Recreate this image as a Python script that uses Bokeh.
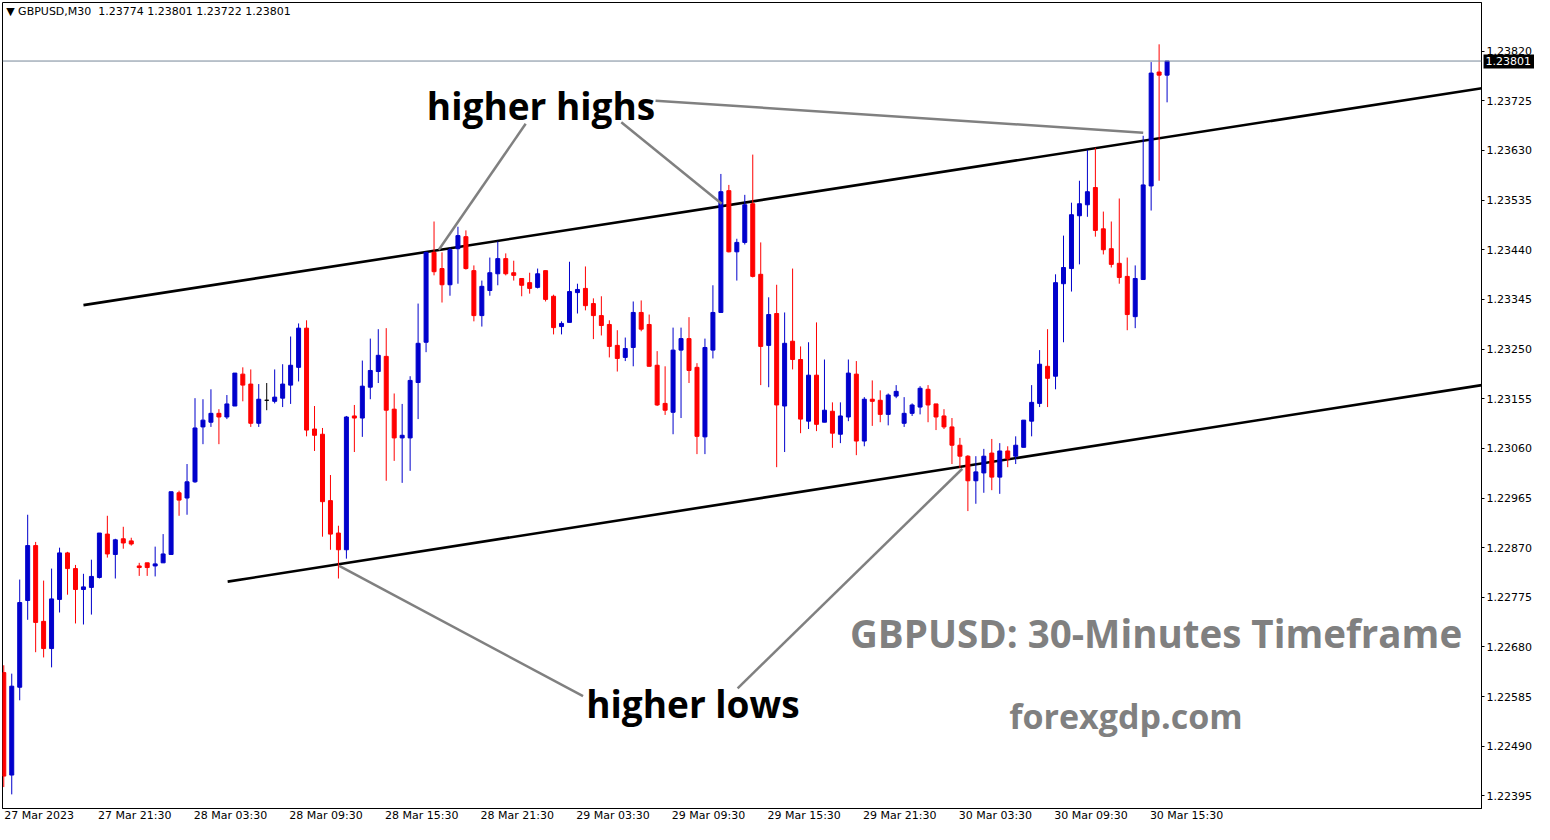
from bokeh.plotting import figure
from bokeh.models import FixedTicker, PrintfTickFormatter, Label, Span, ColumnDataSource, LinearAxis
from bokeh.embed import file_html
from bokeh.resources import INLINE

# ---------------- data (GBPUSD M30, bar index 0 = 27 Mar 15:30) ----------------
opens = [1.22631, 1.22435, 1.22603, 1.22769, 1.22874, 1.22729, 1.22677, 1.22771, 1.22860, 1.22830,
         1.22790, 1.22794, 1.22813, 1.22896, 1.22857, 1.22887, 1.22883, 1.22835, 1.22841, 1.22835,
         1.22841, 1.22857, 1.22975, 1.22965, 1.22996, 1.23101, 1.23110, 1.23127, 1.23120, 1.23141,
         1.23202, 1.23183, 1.23108, 1.23152, 1.23150, 1.23156, 1.23181, 1.23215, 1.23290, 1.23097,
         1.23087, 1.22960, 1.22898, 1.22866, 1.23122, 1.23118, 1.23177, 1.23207, 1.23236, 1.23135,
         1.23080, 1.23080, 1.23186, 1.23263, 1.23435, 1.23404, 1.23373, 1.23442, 1.23465, 1.23400,
         1.23314, 1.23362, 1.23394, 1.23423, 1.23396, 1.23385, 1.23377, 1.23368, 1.23400, 1.23351,
         1.23293, 1.23301, 1.23358, 1.23366, 1.23337, 1.23314, 1.23297, 1.23257, 1.23234, 1.23253,
         1.23320, 1.23297, 1.23219, 1.23146, 1.23129, 1.23248, 1.23270, 1.23215, 1.23082, 1.23248,
         1.23320, 1.23553, 1.23436, 1.23454, 1.23528, 1.23393, 1.23257, 1.23318, 1.23141, 1.23265,
         1.23230, 1.23112, 1.23200, 1.23110, 1.23131, 1.23087, 1.23120, 1.23202, 1.23074, 1.23154,
         1.23152, 1.23125, 1.23160, 1.23108, 1.23127, 1.23139, 1.23173, 1.23145, 1.23122, 1.23101,
         1.23066, 1.23045, 1.22998, 1.23013, 1.23051, 1.23005, 1.23055, 1.23045, 1.23062, 1.23112,
         1.23146, 1.23217, 1.23198, 1.23375, 1.23404, 1.23505, 1.23526, 1.23559, 1.23480, 1.23442,
         1.23414, 1.23389, 1.23312, 1.23383, 1.23562, 1.23780, 1.23774]
highs = [1.22645, 1.22629, 1.22809, 1.22933, 1.22881, 1.22807, 1.22830, 1.22870, 1.22862, 1.22837,
         1.22820, 1.22847, 1.22898, 1.22931, 1.22887, 1.22910, 1.22889, 1.22841, 1.22841, 1.22872,
         1.22896, 1.22977, 1.22979, 1.23030, 1.23156, 1.23154, 1.23173, 1.23135, 1.23162, 1.23204,
         1.23215, 1.23211, 1.23183, 1.23185, 1.23211, 1.23221, 1.23274, 1.23299, 1.23305, 1.23141,
         1.23099, 1.23009, 1.22912, 1.23122, 1.23143, 1.23228, 1.23270, 1.23288, 1.23290, 1.23165,
         1.23145, 1.23198, 1.23337, 1.23436, 1.23494, 1.23435, 1.23444, 1.23484, 1.23477, 1.23410,
         1.23381, 1.23425, 1.23456, 1.23433, 1.23419, 1.23385, 1.23396, 1.23404, 1.23400, 1.23354,
         1.23303, 1.23417, 1.23375, 1.23408, 1.23347, 1.23351, 1.23305, 1.23286, 1.23272, 1.23341,
         1.23343, 1.23316, 1.23246, 1.23217, 1.23291, 1.23291, 1.23311, 1.23223, 1.23270, 1.23372,
         1.23585, 1.23564, 1.23461, 1.23545, 1.23622, 1.23454, 1.23349, 1.23373, 1.23320, 1.23404,
         1.23255, 1.23263, 1.23301, 1.23230, 1.23148, 1.23148, 1.23230, 1.23227, 1.23158, 1.23190,
         1.23171, 1.23165, 1.23181, 1.23158, 1.23146, 1.23179, 1.23181, 1.23145, 1.23135, 1.23118,
         1.23080, 1.23047, 1.23045, 1.23059, 1.23078, 1.23070, 1.23064, 1.23083, 1.23114, 1.23181,
         1.23248, 1.23288, 1.23393, 1.23467, 1.23530, 1.23572, 1.23631, 1.23635, 1.23513, 1.23494,
         1.23538, 1.23425, 1.23410, 1.23658, 1.23799, 1.23833, 1.23801]
lows = [1.22412, 1.22398, 1.22578, 1.22732, 1.22670, 1.22660, 1.22641, 1.22746, 1.22780, 1.22725,
        1.22723, 1.22742, 1.22811, 1.22851, 1.22811, 1.22868, 1.22874, 1.22816, 1.22816, 1.22815,
        1.22841, 1.22857, 1.22931, 1.22933, 1.22994, 1.23068, 1.23101, 1.23068, 1.23116, 1.23141,
        1.23150, 1.23101, 1.23101, 1.23133, 1.23146, 1.23139, 1.23145, 1.23188, 1.23083, 1.23055,
        1.22891, 1.22866, 1.22811, 1.22849, 1.23053, 1.23082, 1.23154, 1.23185, 1.22998, 1.23036,
        1.22994, 1.23017, 1.23116, 1.23244, 1.23391, 1.23339, 1.23352, 1.23375, 1.23402, 1.23303,
        1.23293, 1.23352, 1.23372, 1.23391, 1.23381, 1.23351, 1.23356, 1.23366, 1.23341, 1.23278,
        1.23278, 1.23301, 1.23318, 1.23324, 1.23269, 1.23276, 1.23234, 1.23207, 1.23227, 1.23217,
        1.23284, 1.23217, 1.23141, 1.23124, 1.23087, 1.23118, 1.23185, 1.23049, 1.23049, 1.23232,
        1.23320, 1.23435, 1.23381, 1.23450, 1.23387, 1.23181, 1.23177, 1.23024, 1.23053, 1.23211,
        1.23089, 1.23097, 1.23093, 1.23110, 1.23061, 1.23070, 1.23112, 1.23047, 1.23064, 1.23103,
        1.23110, 1.23104, 1.23156, 1.23101, 1.23122, 1.23125, 1.23110, 1.23095, 1.23097, 1.23030,
        1.23022, 1.22940, 1.22954, 1.22975, 1.22980, 1.22973, 1.23024, 1.23030, 1.23062, 1.23083,
        1.23139, 1.23139, 1.23173, 1.23263, 1.23360, 1.23412, 1.23503, 1.23465, 1.23431, 1.23406,
        1.23375, 1.23286, 1.23290, 1.23383, 1.23515, 1.23572, 1.23722]
closes = [1.22433, 1.22605, 1.22765, 1.22874, 1.22727, 1.22677, 1.22772, 1.22860, 1.22830, 1.22790,
          1.22795, 1.22815, 1.22898, 1.22858, 1.22885, 1.22879, 1.22877, 1.22832, 1.22832, 1.22839,
          1.22858, 1.22977, 1.22961, 1.22996, 1.23099, 1.23114, 1.23127, 1.23120, 1.23145, 1.23204,
          1.23181, 1.23108, 1.23154, 1.23152, 1.23158, 1.23183, 1.23219, 1.23290, 1.23095, 1.23085,
          1.22958, 1.22896, 1.22866, 1.23120, 1.23118, 1.23179, 1.23209, 1.23238, 1.23133, 1.23080,
          1.23085, 1.23190, 1.23261, 1.23435, 1.23398, 1.23373, 1.23440, 1.23467, 1.23404, 1.23314,
          1.23370, 1.23396, 1.23423, 1.23394, 1.23391, 1.23372, 1.23366, 1.23394, 1.23345, 1.23291,
          1.23299, 1.23360, 1.23364, 1.23333, 1.23314, 1.23295, 1.23255, 1.23232, 1.23251, 1.23320,
          1.23288, 1.23217, 1.23143, 1.23133, 1.23248, 1.23270, 1.23209, 1.23083, 1.23253, 1.23320,
          1.23551, 1.23436, 1.23454, 1.23526, 1.23389, 1.23255, 1.23316, 1.23143, 1.23261, 1.23230,
          1.23116, 1.23200, 1.23106, 1.23133, 1.23089, 1.23122, 1.23204, 1.23074, 1.23154, 1.23150,
          1.23125, 1.23162, 1.23169, 1.23127, 1.23143, 1.23175, 1.23143, 1.23120, 1.23101, 1.23066,
          1.23045, 1.22998, 1.23015, 1.23045, 1.23005, 1.23055, 1.23040, 1.23066, 1.23114, 1.23148,
          1.23221, 1.23194, 1.23377, 1.23406, 1.23507, 1.23528, 1.23551, 1.23477, 1.23440, 1.23412,
          1.23387, 1.23316, 1.23385, 1.23564, 1.23778, 1.23774, 1.23801]

x_tick_bars = [0, 12, 24, 36, 48, 60, 72, 84, 96, 108, 120, 132, 144]
x_tick_labels = ["27 Mar 2023", "27 Mar 21:30", "28 Mar 03:30", "28 Mar 09:30", "28 Mar 15:30",
                 "28 Mar 21:30", "29 Mar 03:30", "29 Mar 09:30", "29 Mar 15:30", "29 Mar 21:30",
                 "30 Mar 03:30", "30 Mar 09:30", "30 Mar 15:30"]
y_ticks = [1.22395, 1.22490, 1.22585, 1.22680, 1.22775, 1.22870, 1.22965, 1.23060,
           1.23155, 1.23250, 1.23345, 1.23440, 1.23535, 1.23630, 1.23725, 1.23820]

last_price = 1.23801
header_text = "\u25BC GBPUSD,M30 \u00A01.23774 1.23801 1.23722 1.23801"

# channel lines (bar index, price)
upper_channel_x = [10.0, 185.5]
upper_channel_y = [1.23334, 1.23749]
lower_channel_x = [28.1, 185.5]
lower_channel_y = [1.22805, 1.23181]

# pointer lines from labels to swing points
pointer_x0 = [65.5, 77.5, 81.8, 72.7, 92.1]
pointer_y0 = [1.23681, 1.23684, 1.23725, 1.22586, 1.22601]
pointer_x1 = [54.6, 90.1, 143.0, 42.1, 120.3]
pointer_y1 = [1.23440, 1.23528, 1.23664, 1.22835, 1.23021]

# ---------------- derived ----------------
n = len(opens)
bars = list(range(n))
colors = []
for o, c in zip(opens, closes):
    if c > o:
        colors.append("#0000CC")
    elif c < o:
        colors.append("#FF0000")
    else:
        colors.append("#000000")

src = ColumnDataSource(dict(
    x=bars, open=opens, high=highs, low=lows, close=closes,
    top=[max(o, c) for o, c in zip(opens, closes)],
    bottom=[min(o, c) for o, c in zip(opens, closes)],
    color=colors,
))

X_END = 185.46
p = figure(width=1534, height=824, x_range=(-0.16, X_END), y_range=(1.22371, 1.23913),
           y_axis_location="right", toolbar_location=None, output_backend="svg",
           min_border_left=2, min_border_top=2, min_border_right=40, min_border_bottom=14)
p.background_fill_color = "white"
p.border_fill_color = "white"
p.outline_line_color = "black"
p.outline_line_width = 1
p.xgrid.visible = False
p.ygrid.visible = False

# channel lines
p.line(upper_channel_x, upper_channel_y, line_color="black", line_width=2.6)
p.line(lower_channel_x, lower_channel_y, line_color="black", line_width=2.6)

# candles
p.segment(x0="x", y0="low", x1="x", y1="high", line_color="color", line_width=1, source=src)
p.vbar(x="x", width=0.5, top="top", bottom="bottom", fill_color="color", line_color="color",
       line_width=1, source=src)

# pointer lines
p.segment(x0=pointer_x0, y0=pointer_y0, x1=pointer_x1, y1=pointer_y1,
          line_color="#808080", line_width=2.5)

# current price line
p.add_layout(Span(location=last_price, dimension="width", line_color="#778899", line_width=1))

# axes
p.xaxis.ticker = FixedTicker(ticks=[b + 4.45 for b in x_tick_bars])
p.xaxis.major_label_overrides = {b + 4.45: t for b, t in zip(x_tick_bars, x_tick_labels)}
p.xaxis.major_tick_out = 0
p.xaxis.major_tick_in = 0
p.xaxis.minor_tick_out = 0
p.xaxis.minor_tick_in = 0
p.xaxis.major_label_standoff = 0
p.xaxis.axis_line_color = "black"

p.yaxis.ticker = FixedTicker(ticks=y_ticks)
p.yaxis.formatter = PrintfTickFormatter(format="%.5f")
p.yaxis.major_tick_out = 3
p.yaxis.major_tick_in = 0
p.yaxis.minor_tick_out = 0
p.yaxis.minor_tick_in = 0
p.yaxis.major_label_standoff = 2
p.yaxis.axis_line_color = "black"
p.yaxis.major_tick_line_color = "black"

for ax in (p.xaxis, p.yaxis):
    ax.major_label_text_font = "DejaVu Sans"
    ax.major_label_text_font_size = "11px"
    ax.major_label_text_color = "black"

# price tag: an outer price axis whose single tick points inward as a thick black bar
tag_axis = LinearAxis(ticker=FixedTicker(ticks=[last_price]),
                      formatter=PrintfTickFormatter(format="%.5f"),
                      axis_line_color=None, major_tick_line_color="black",
                      major_tick_line_width=14, major_tick_out=0, major_tick_in=51,
                      minor_tick_out=0, minor_tick_in=0, major_label_standoff=-49,
                      major_label_text_color="white", major_label_text_font="DejaVu Sans",
                      major_label_text_font_size="11px")
p.add_layout(tag_axis, "right")

# texts
p.add_layout(Label(x=0.3, y=1.23895, text=header_text, text_font="DejaVu Sans",
                   text_font_size="11px", text_color="black", text_baseline="alphabetic"))
p.add_layout(Label(x=53.1, y=1.23715, text="higher highs", text_font="Open Sans",
                   text_font_size="37px", text_font_style="bold", text_color="black",
                   text_baseline="alphabetic"))
p.add_layout(Label(x=73.1, y=1.22572, text="higher lows", text_font="Open Sans",
                   text_font_size="37px", text_font_style="bold", text_color="black",
                   text_baseline="alphabetic"))
p.add_layout(Label(x=106.2, y=1.22706, text="GBPUSD: 30-Minutes Timeframe", text_font="Open Sans",
                   text_font_size="38.5px", text_font_style="bold", text_color="#808080",
                   text_baseline="alphabetic"))
p.add_layout(Label(x=126.2, y=1.22548, text="forexgdp.com", text_font="Open Sans",
                   text_font_size="34px", text_font_style="bold", text_color="#808080",
                   text_baseline="alphabetic"))

open("out.html", "w").write(file_html(p, INLINE))
